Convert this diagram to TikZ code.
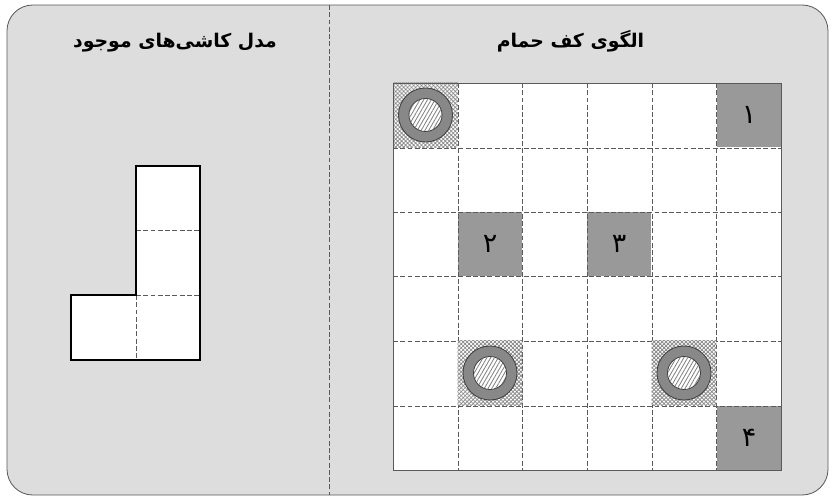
\documentclass[tikz,border=0pt]{standalone}
\usepackage{fontspec}
\usetikzlibrary{patterns.meta}
\TeXXeTstate=1
\newfontfamily\arabicfont[Script=Arabic]{DejaVu Sans}
\definecolor{panel}{RGB}{221,221,221}
\definecolor{tilegray}{RGB}{153,153,153}
\definecolor{ringgray}{RGB}{136,136,136}
\definecolor{edge}{RGB}{90,90,90}
\tikzset{
  title/.style={anchor=base,font=\arabicfont\bfseries\fontsize{16.1}{20}\selectfont,text=black},
  num/.style={font=\arabicfont\fontsize{23}{26}\selectfont,text=black},
  gridline/.style={edge,dash pattern=on 4.2pt off 2pt,line width=0.6pt},
  outline/.style={black,line width=1.3pt},
  pics/drain/.style={code={
    \fill[white] (-32.3,-32.3) rectangle (32.3,32.3);
    \fill[pattern={Lines[angle=45,distance=2.4pt,line width=0.7pt]},pattern color=black!45] (-32.3,-32.3) rectangle (32.3,32.3);
    \fill[pattern={Lines[angle=-45,distance=2.4pt,line width=0.7pt]},pattern color=black!45] (-32.3,-32.3) rectangle (32.3,32.3);
    \draw[edge!70!black,line width=0.7pt,fill=ringgray] (0,0) circle (27);
    \draw[edge!70!black,line width=0.7pt,fill=white] (0,0) circle (16.5);
    \fill[pattern={Lines[angle=60,distance=2.8pt,line width=0.7pt]},pattern color=black!50] (0,0) circle (16.2);
  }},
}
\begin{document}
\begin{tikzpicture}[x=0.03cm,y=-0.03cm]
    \useasboundingbox (0,0) rectangle (835,499);
    % panel
    \fill[white] (0,0) rectangle (835,499);
    \draw[edge,fill=panel,line width=0.7pt,rounded corners=22pt] (7,5) rectangle (828,495);
    \draw[gridline] (329,5) -- (329,495);
    \node[title] (lefttitle) at (175,47) {\beginR مدل کاشی‌های موجود\endR};
    \node[title] (righttitle) at (570.5,47) {\beginR الگوی کف حمام\endR};
    % floor
    \fill[white] (393,83) rectangle (781,470);
    \foreach \cx/\cy/\n/\t in {749/115/1/۱,490/244/2/۲,619/244/3/۳,749/438/4/۴} {
      \fill[tilegray] (\cx-32.3,\cy-32.3) rectangle (\cx+32.3,\cy+32.3);
      \node[num] (tile\n) at (\cx,\cy) {\t};
    }
    \foreach \x in {458,522,587,652,716} \draw[gridline] (\x,83) -- (\x,470);
    \foreach \y in {148,212,276,341,406} \draw[gridline] (393,\y) -- (781,\y);
    \pic at (425.5,115) {drain};
    \pic at (490,373) {drain};
    \pic at (684,373) {drain};
    \draw[edge,line width=0.8pt] (393,83) rectangle (781,470);
    % available tile
    \fill[white] (136,166) -- (200,166) -- (200,360) -- (71,360) -- (71,295) -- (136,295) -- cycle;
    \draw[gridline] (136,230) -- (200,230) (136,295) -- (200,295) (136,295) -- (136,360);
    \draw[outline] (136,166) -- (200,166) -- (200,360) -- (71,360) -- (71,295) -- (136,295) -- cycle;
\end{tikzpicture}
\end{document}
